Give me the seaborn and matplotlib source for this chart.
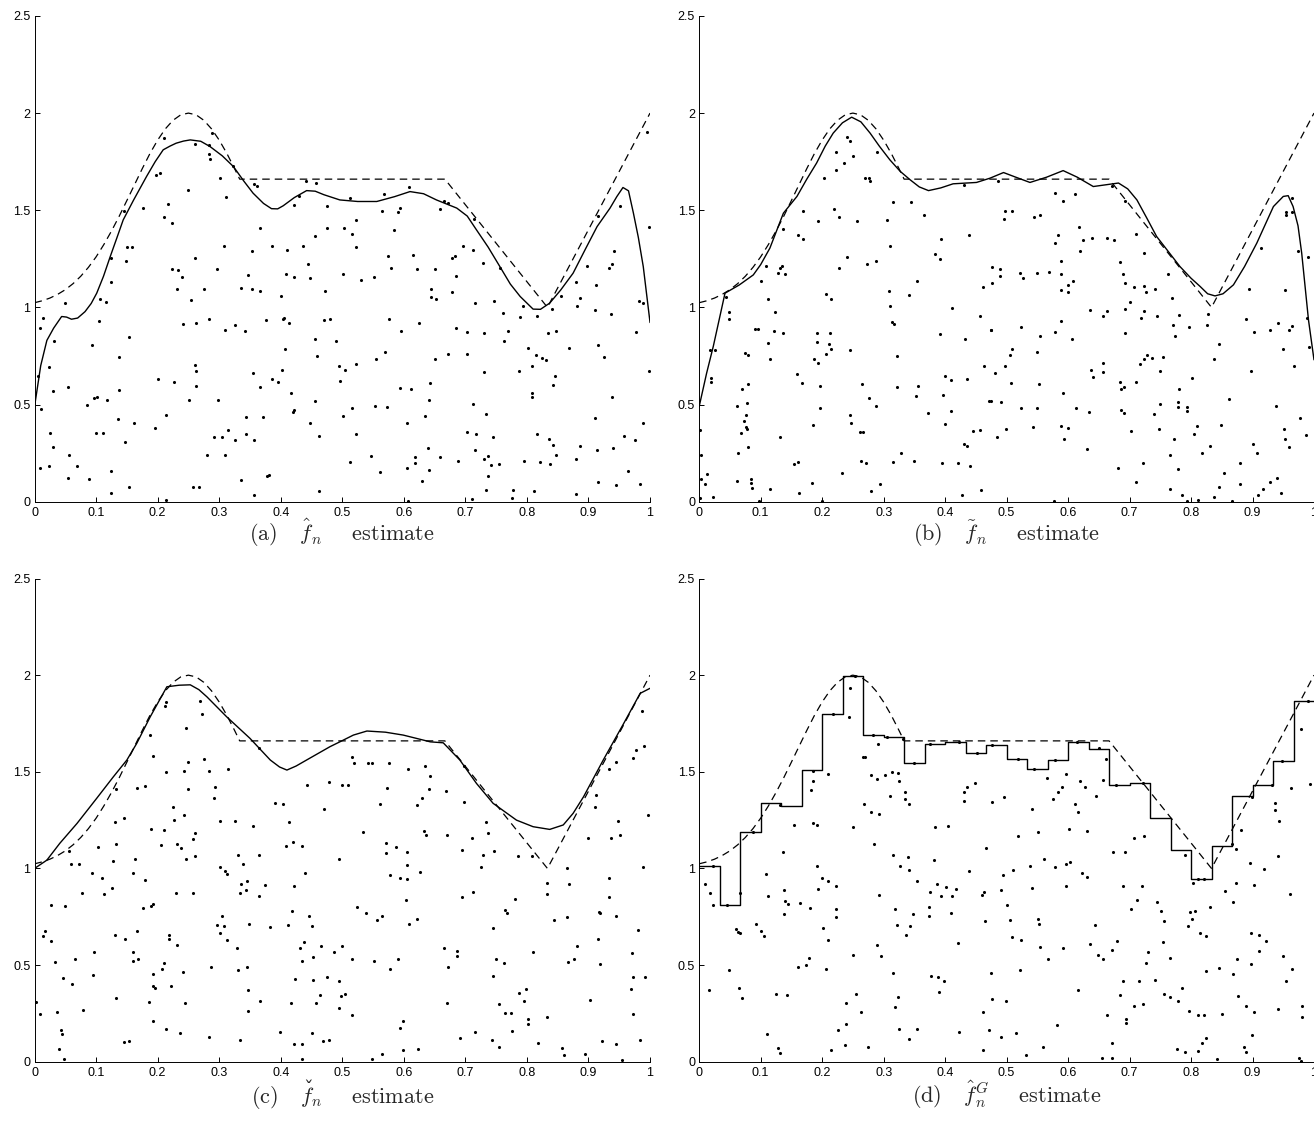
import numpy as np
import matplotlib
matplotlib.use("Agg")
import matplotlib.pyplot as plt
import seaborn as sns

# true regression function (dashed)
true_x = [0, .0125, .025, .0375, .05, .0625, .075, .0875, .1, .1125, .125, .1375, .15, .1625,
          .175, .1875, .2, .2125, .225, .2375, .25, .2625, .275, .2875, .3, .3125, .325, .3333,
          .6667, .8333, 1.0]
true_y = [1.024, 1.034, 1.048, 1.067, 1.091, 1.122, 1.160, 1.206, 1.260, 1.323, 1.393, 1.469,
          1.550, 1.632, 1.714, 1.792, 1.861, 1.919, 1.963, 1.991, 2.0, 1.991, 1.963, 1.919,
          1.861, 1.792, 1.714, 1.66, 1.66, 1.0, 2.0]

# (a) estimate
est_a_x = [0, .01, .02, .031, .044, .052, .06, .07, .082, .092, .101, .112, .123, .134, .144,
           .161, .182, .196, .209, .22, .23, .242, .253, .27, .285, .305, .323, .34, .355,
           .372, .385, .395, .404, .422, .442, .456, .47, .496, .525, .556, .585, .61, .632,
           .653, .686, .703, .718, .737, .756, .773, .789, .81, .822, .837, .855, .875, .895,
           .914, .935, .946, .956, .965, .973, .981, .989, 1.0]
est_a_y = [.49, .70, .83, .893, .953, .95, .939, .945, .978, 1.02, 1.073, 1.16, 1.262, 1.36,
           1.45, 1.553, 1.674, 1.75, 1.811, 1.83, 1.845, 1.856, 1.862, 1.855, 1.828, 1.78,
           1.725, 1.65, 1.588, 1.535, 1.508, 1.507, 1.523, 1.565, 1.601, 1.598, 1.58, 1.553,
           1.545, 1.545, 1.57, 1.596, 1.585, 1.553, 1.511, 1.47, 1.399, 1.31, 1.21, 1.12, 1.056,
           .991, .99, 1.022, 1.09, 1.176, 1.3, 1.416, 1.511, 1.57, 1.617, 1.6, 1.485, 1.36, 1.21,
           .922]

# (b) estimate
est_b_x = [0, .012, .023, .042, .065, .088, .1, .115, .137, .159, .175, .191, .205, .218, .233,
           .248, .263, .278, .293, .31, .327, .343, .358, .373, .393, .413, .451, .473, .495,
           .515, .538, .565, .592, .615, .641, .682, .697, .712, .728, .744, .782, .8, .815,
           .827, .839, .852, .869, .887, .907, .934, .95, .958, .966, .974, .98, .991, 1.0]
est_b_y = [.49, .66, .80, 1.073, 1.115, 1.167, 1.22, 1.305, 1.485, 1.571, 1.66, 1.743, 1.83,
           1.897, 1.95, 1.979, 1.955, 1.897, 1.83, 1.76, 1.70, 1.657, 1.62, 1.601, 1.615, 1.636,
           1.643, 1.665, 1.694, 1.67, 1.643, 1.67, 1.704, 1.67, 1.622, 1.64, 1.61, 1.553, 1.46,
           1.365, 1.21, 1.15, 1.107, 1.07, 1.059, 1.07, 1.116, 1.21, 1.331, 1.519, 1.571, 1.575,
           1.519, 1.42, 1.279, .936, .73]

# (c) estimate
est_c_x = [0, .02, .041, .069, .101, .128, .15, .166, .188, .215, .235, .253, .267, .28, .312,
           .35, .383, .398, .41, .425, .442, .48, .496, .518, .54, .57, .599, .643, .664, .691,
           .718, .745, .783, .81, .837, .859, .875, .892, .924, .957, .984, 1.0]
est_c_y = [1.0, 1.043, 1.13, 1.233, 1.363, 1.474, 1.561, 1.647, 1.785, 1.94, 1.948, 1.95, 1.925,
           1.888, 1.785, 1.673, 1.561, 1.525, 1.509, 1.53, 1.561, 1.63, 1.655, 1.69, 1.711,
           1.705, 1.69, 1.655, 1.65, 1.561, 1.44, 1.337, 1.25, 1.216, 1.202, 1.225, 1.285,
           1.371, 1.561, 1.749, 1.906, 1.932]

# (d) piecewise constant estimate on 30 bins
edges_d = [0, .0333, .0667, .1, .1333, .1667, .2, .2333, .2667, .3, .3333, .3667, .4, .4333,
           .4667, .5, .5333, .5667, .6, .6333, .6667, .7, .7333, .7667, .8, .8333, .8667, .9,
           .9333, .9667, 1.0]
steps_d = [1.012, .811, 1.19, 1.34, 1.324, 1.507, 1.799, 1.995, 1.692, 1.68, 1.547, 1.644,
           1.654, 1.599, 1.637, 1.564, 1.516, 1.559, 1.656, 1.62, 1.43, 1.443, 1.261, 1.097,
           .945, 1.118, 1.373, 1.43, 1.556, 1.866, 1.866]

# observations
pts_a = [(.210, 1.874), (.289, 1.900), (.260, 1.840), (.284, 1.837), (.284, 1.790), (.285, 1.763),
         (.322, 1.730), (.197, 1.682), (.204, 1.691), (.302, 1.665), (.441, 1.651), (.457, 1.639),
         (.356, 1.636), (.362, 1.625), (.249, 1.603), (.311, 1.569), (.429, 1.574), (.475, 1.521),
         (.421, 1.529), (.217, 1.533), (.176, 1.510), (.146, 1.498), (.211, 1.466), (.224, 1.435),
         (.366, 1.411), (.475, 1.409), (.455, 1.365), (.150, 1.313), (.158, 1.310), (.307, 1.315),
         (.386, 1.318), (.436, 1.317), (.410, 1.296), (.354, 1.291), (.124, 1.256), (.260, 1.256),
         (.148, 1.239), (.445, 1.222), (.297, 1.200), (.224, 1.196), (.233, 1.193), (.239, 1.157),
         (.347, 1.167), (.409, 1.172), (.447, 1.153), (.421, 1.155), (.124, 1.129), (.232, 1.095),
         (.275, 1.095), (.336, 1.099), (.354, 1.093), (.367, 1.086), (.472, 1.086), (.401, 1.059),
         (.107, 1.042), (.116, 1.028), (.050, 1.025), (.254, 1.038), (.014, .944), (.009, .893),
         (.104, .930), (.283, .941), (.241, .915), (.263, .917), (.310, .884), (.325, .910),
         (.342, .879), (.376, .934), (.404, .941), (.406, .944), (.414, .922), (.470, .934),
         (.480, .941), (.154, .846), (.031, .827), (.094, .807), (.407, .784), (.456, .838),
         (.138, .743), (.459, .750), (.006, .647), (.024, .692), (.261, .704), (.263, .673),
         (.355, .664), (.402, .678), (.200, .632), (.226, .618), (.386, .633), (.395, .614),
         (.263, .594), (.367, .589), (.054, .590), (.030, .572), (.138, .575), (.417, .558),
         (.011, .475), (.085, .498), (.096, .532), (.101, .541), (.118, .524), (.251, .524),
         (.298, .524), (.455, .518), (.420, .460), (.421, .472), (.213, .446), (.343, .438),
         (.371, .434), (.135, .424), (.161, .403), (.195, .381), (.448, .407), (.025, .352),
         (.100, .354), (.112, .354), (.314, .369), (.291, .335), (.304, .335), (.326, .318),
         (.343, .347), (.357, .318), (.462, .338), (.147, .309), (.030, .280), (.056, .240),
         (.280, .240), (.310, .240), (.009, .172), (.024, .185), (.069, .185), (.054, .120),
         (.089, .118), (.125, .158), (.336, .112), (.377, .134), (.381, .136), (.124, .046),
         (.153, .077), (.258, .077), (.267, .077), (.214, .009), (.357, .034), (.462, .055),
         (.995, 1.905), (.609, 1.622), (.568, 1.584), (.512, 1.565), (.665, 1.548), (.672, 1.536),
         (.952, 1.522), (.564, 1.498), (.593, 1.510), (.591, 1.490), (.658, 1.507), (.714, 1.454),
         (.916, 1.468), (.523, 1.450), (.502, 1.406), (.584, 1.399), (.515, 1.377), (.998, 1.413),
         (.522, 1.313), (.696, 1.317), (.712, 1.296), (.574, 1.265), (.615, 1.268), (.679, 1.255),
         (.683, 1.265), (.941, 1.292), (.728, 1.227), (.579, 1.202), (.621, 1.196), (.650, 1.198),
         (.756, 1.205), (.898, 1.215), (.938, 1.222), (.934, 1.202), (.501, 1.172), (.684, 1.162),
         (.551, 1.155), (.531, 1.140), (.879, 1.133), (.913, 1.114), (.644, 1.092), (.679, 1.080),
         (.644, 1.052), (.652, 1.044), (.855, 1.061), (.886, 1.047), (.746, 1.033), (.715, 1.021),
         (.982, 1.033), (.988, 1.021), (.794, 1.008), (.881, 1.008), (.841, .990), (.910, .984),
         (.937, .968), (.761, .973), (.816, .953), (.788, .948), (.576, .939), (.625, .918),
         (.595, .879), (.685, .893), (.703, .874), (.730, .867), (.770, .879), (.834, .867),
         (.848, .879), (.977, .875), (.489, .826), (.763, .826), (.915, .807), (.801, .790),
         (.869, .790), (.570, .769), (.522, .709), (.555, .736), (.650, .733), (.671, .760),
         (.703, .760), (.815, .755), (.824, .738), (.831, .729), (.808, .699), (.925, .747),
         (.495, .700), (.505, .678), (.497, .621), (.731, .666), (.787, .671), (.845, .649),
         (.842, .601), (.999, .675), (.594, .584), (.611, .582), (.642, .609), (.808, .561),
         (.809, .537), (.938, .537), (.641, .524), (.712, .501), (.516, .484), (.553, .494),
         (.572, .486), (.501, .443), (.635, .443), (.734, .453), (.911, .429), (.988, .403),
         (.605, .403), (.523, .347), (.702, .360), (.718, .347), (.745, .335), (.817, .347),
         (.836, .323), (.842, .290), (.958, .340), (.976, .318), (.639, .276), (.716, .266),
         (.887, .288), (.914, .266), (.940, .275), (.546, .237), (.618, .228), (.658, .228),
         (.737, .235), (.848, .239), (.513, .204), (.605, .175), (.618, .197), (.688, .211),
         (.731, .218), (.742, .187), (.754, .192), (.796, .208), (.821, .203), (.837, .192),
         (.880, .221), (.964, .160), (.562, .154), (.641, .161), (.737, .134), (.629, .108),
         (.915, .103), (.945, .084), (.984, .093), (.734, .060), (.778, .060), (.811, .055),
         (.776, .019), (.711, .014), (.879, .038), (.606, .002)]

pts_b = [(.240, 1.876), (.245, 1.854), (.223, 1.799), (.289, 1.799), (.250, 1.780), (.236, 1.742),
         (.223, 1.708), (.203, 1.668), (.269, 1.665), (.277, 1.668), (.278, 1.648), (.431, 1.631),
         (.316, 1.540), (.344, 1.540), (.169, 1.497), (.220, 1.505), (.228, 1.466), (.366, 1.473),
         (.194, 1.447), (.257, 1.445), (.305, 1.452), (.137, 1.402), (.161, 1.370), (.169, 1.354),
         (.439, 1.373), (.393, 1.351), (.311, 1.318), (.384, 1.277), (.240, 1.258), (.392, 1.248),
         (.273, 1.222), (.288, 1.241), (.228, 1.203), (.108, 1.215), (.131, 1.205), (.134, 1.212),
         (.128, 1.176), (.140, 1.171), (.101, 1.138), (.355, 1.136), (.462, 1.104), (.308, 1.085),
         (.342, 1.064), (.207, 1.069), (.215, 1.044), (.112, 1.045), (.043, 1.052), (.049, .975),
         (.048, .941), (.123, .975), (.311, 1.006), (.411, .996), (.457, .953), (.314, .927),
         (.317, .913), (.475, .884), (.090, .889), (.096, .889), (.121, .879), (.136, .867),
         (.191, .867), (.212, .867), (.391, .862), (.112, .815), (.192, .820), (.211, .812),
         (.432, .838), (.018, .781), (.025, .778), (.215, .784), (.245, .781), (.074, .764),
         (.080, .755), (.115, .735), (.207, .759), (.186, .736), (.193, .714), (.322, .748),
         (.464, .699), (.019, .635), (.019, .618), (.080, .604), (.159, .656), (.168, .609),
         (.265, .608), (.197, .594), (.321, .589), (.356, .596), (.400, .649), (.410, .627),
         (.435, .632), (.069, .580), (.077, .510), (.061, .494), (.277, .532), (.287, .491),
         (.352, .544), (.397, .548), (.196, .481), (.245, .448), (.372, .458), (.410, .469),
         (.474, .518), (.076, .446), (.073, .417), (.076, .386), (.077, .372), (.068, .355),
         (.185, .395), (.247, .407), (.400, .398), (.002, .369), (.457, .369), (.445, .366),
         (.262, .360), (.267, .360), (.080, .283), (.132, .333), (.430, .297), (.436, .287),
         (.063, .252), (.328, .249), (.003, .239), (.155, .192), (.160, .203), (.263, .209),
         (.272, .197), (.315, .204), (.349, .209), (.395, .197), (.421, .201), (.441, .185),
         (.012, .141), (.003, .118), (.010, .091), (.232, .149), (.062, .106), (.085, .118),
         (.085, .096), (.086, .069), (.184, .096), (.294, .091), (.116, .067), (.162, .043),
         (.280, .053), (.459, .060), (.428, .036), (.023, .026), (.002, .019), (.098, .003),
         (.199, .002),
         (.486, 1.648), (.578, 1.588), (.612, 1.584), (.592, 1.545), (.671, 1.625), (.965, 1.565),
         (.692, 1.545), (.955, 1.493), (.955, 1.476), (.964, 1.493), (.497, 1.497), (.508, 1.497),
         (.495, 1.456), (.545, 1.466), (.554, 1.473), (.618, 1.416), (.584, 1.372), (.579, 1.332),
         (.625, 1.347), (.639, 1.359), (.664, 1.359), (.675, 1.346), (.711, 1.377), (.620, 1.292),
         (.724, 1.280), (.914, 1.304), (.991, 1.258), (.974, 1.292), (.588, 1.241), (.684, 1.232),
         (.476, 1.210), (.489, 1.196), (.489, 1.159), (.521, 1.179), (.526, 1.153), (.550, 1.177),
         (.569, 1.184), (.588, 1.172), (.690, 1.171), (.762, 1.171), (.476, 1.124), (.589, 1.090),
         (.600, 1.080), (.600, 1.116), (.608, 1.138), (.693, 1.128), (.708, 1.107), (.724, 1.112),
         (.727, 1.080), (.742, 1.097), (.895, 1.097), (.953, 1.088), (.769, 1.047), (.701, 1.028),
         (.636, .984), (.656, .958), (.664, .980), (.693, .990), (.718, .947), (.724, .980),
         (.745, .956), (.781, .960), (.828, .968), (.588, .932), (.890, .941), (.941, .918),
         (.988, .944), (.474, .882), (.523, .898), (.771, .908), (.774, .851), (.797, .901),
         (.826, .910), (.959, .884), (.965, .905), (.929, .882), (.902, .872), (.578, .872),
         (.693, .867), (.554, .853), (.607, .836), (.846, .812), (.992, .798), (.549, .772),
         (.509, .786), (.505, .754), (.949, .786), (.717, .709), (.723, .733), (.729, .754),
         (.737, .738), (.754, .743), (.838, .733), (.498, .700), (.481, .661), (.657, .712),
         (.638, .678), (.640, .640), (.657, .669), (.750, .675), (.967, .699), (.898, .673),
         (.507, .613), (.552, .608), (.684, .618), (.686, .580), (.691, .592), (.711, .618),
         (.801, .635), (.781, .582), (.591, .561), (.471, .520), (.491, .512), (.523, .484),
         (.549, .484), (.613, .481), (.634, .460), (.686, .472), (.691, .455), (.749, .503),
         (.740, .450), (.778, .512), (.778, .489), (.793, .486), (.793, .469), (.861, .529),
         (.939, .494), (.977, .429), (.499, .372), (.484, .331), (.543, .386), (.589, .390),
         (.600, .378), (.593, .324), (.702, .366), (.748, .372), (.809, .390), (.805, .348),
         (.849, .395), (.951, .372), (.953, .324), (.987, .342), (.773, .323), (.630, .273),
         (.766, .242), (.818, .249), (.831, .287), (.901, .297), (.908, .249), (.960, .283),
         (.722, .201), (.779, .170), (.682, .172), (.879, .197), (.853, .149), (.711, .100),
         (.766, .065), (.846, .077), (.880, .091), (.917, .064), (.928, .100), (.940, .120),
         (.946, .043), (.909, .036), (.786, .033), (.838, .026), (.793, .005), (.811, .009),
         (.867, .003), (.577, .002)]

pts_c = [(.214, 1.862), (.269, 1.866), (.212, 1.841), (.272, 1.798), (.246, 1.726), (.187, 1.693),
         (.193, 1.581), (.275, 1.567), (.249, 1.553), (.214, 1.498), (.243, 1.505), (.283, 1.505),
         (.315, 1.512), (.364, 1.624), (.293, 1.421), (.292, 1.362), (.250, 1.409), (.132, 1.409),
         (.167, 1.414), (.179, 1.424), (.442, 1.431), (.478, 1.448), (.390, 1.341), (.404, 1.331),
         (.471, 1.307), (.225, 1.319), (.227, 1.252), (.243, 1.274), (.301, 1.248), (.325, 1.248),
         (.131, 1.241), (.146, 1.262), (.414, 1.240), (.355, 1.221), (.189, 1.205), (.210, 1.197),
         (.261, 1.181), (.257, 1.153), (.132, 1.128), (.205, 1.122), (.231, 1.128), (.238, 1.107),
         (.103, 1.112), (.409, 1.117), (.420, 1.136), (.435, 1.114), (.331, 1.072), (.364, 1.072),
         (.261, 1.064), (.056, 1.091), (.164, 1.048), (.128, 1.041), (.246, 1.048), (.059, 1.022),
         (.073, 1.021), (.338, 1.024), (.302, 1.009), (.309, .988), (.313, .969), (.093, .978),
         (.160, .978), (.439, .978), (.109, .948), (.180, .938), (.336, .922), (.345, .936),
         (.343, .891), (.375, .914), (.334, .874), (.077, .874), (.126, .900), (.113, .866),
         (.230, .871), (.258, .871), (.422, .909), (.365, .857), (.027, .809), (.050, .805),
         (.176, .797), (.189, .805), (.192, .814), (.419, .781), (.304, .753), (.412, .707),
         (.349, .710), (.382, .698), (.296, .707), (.308, .703), (.446, .755), (.450, .703),
         (.013, .652), (.017, .676), (.027, .626), (.130, .655), (.167, .678), (.218, .655),
         (.218, .634), (.231, .603), (.301, .667), (.313, .629), (.147, .633), (.329, .590),
         (.431, .591), (.437, .619), (.465, .600), (.097, .567), (.065, .534), (.033, .514),
         (.160, .569), (.160, .521), (.168, .529), (.435, .521), (.452, .543), (.211, .512),
         (.207, .479), (.193, .453), (.241, .466), (.286, .491), (.330, .474), (.345, .488),
         (.095, .448), (.046, .434), (.423, .428), (.452, .424), (.475, .438), (.061, .402),
         (.193, .393), (.195, .381), (.221, .393), (.346, .371), (.463, .345), (.002, .307),
         (.132, .328), (.186, .310), (.244, .302), (.366, .314), (.416, .302), (.458, .302),
         (.009, .248), (.037, .259), (.078, .267), (.347, .264), (.192, .210), (.043, .164),
         (.045, .141), (.214, .167), (.236, .150), (.284, .129), (.333, .110), (.398, .152),
         (.450, .147), (.469, .107), (.479, .112), (.145, .102), (.153, .107), (.421, .091),
         (.435, .091), (.039, .064), (.048, .014), (.434, .014),
         (.515, 1.578), (.519, 1.543), (.542, 1.548), (.549, 1.548), (.576, 1.543), (.606, 1.517),
         (.634, 1.529), (.643, 1.479), (.698, 1.531), (.972, 1.574), (.977, 1.612), (.991, 1.634),
         (.987, 1.814), (.934, 1.512), (.944, 1.553), (.499, 1.433), (.509, 1.431), (.572, 1.416),
         (.641, 1.412), (.630, 1.367), (.622, 1.328), (.669, 1.403), (.698, 1.345), (.561, 1.331),
         (.912, 1.378), (.910, 1.316), (.733, 1.238), (.737, 1.181), (.948, 1.247), (.996, 1.278),
         (.534, 1.190), (.632, 1.195), (.636, 1.172), (.670, 1.171), (.711, 1.157), (.899, 1.160),
         (.936, 1.157), (.951, 1.172), (.571, 1.133), (.571, 1.081), (.588, 1.112), (.605, 1.086),
         (.695, 1.098), (.728, 1.072), (.747, 1.091), (.786, 1.066), (.809, 1.066), (.494, 1.047),
         (.577, .964), (.593, .952), (.605, .943), (.605, 1.017), (.626, .983), (.725, 1.009),
         (.865, 1.000), (.989, 1.009), (.833, .926), (.833, .866), (.868, .922), (.934, .953),
         (.934, .853), (.713, .879), (.694, .850), (.780, .841), (.604, .836), (.524, .798),
         (.539, .767), (.557, .733), (.564, .753), (.609, .712), (.622, .741), (.764, .784),
         (.767, .767), (.844, .733), (.865, .747), (.917, .776), (.918, .767), (.944, .755),
         (.745, .690), (.981, .684), (.915, .634), (.487, .569), (.499, .598), (.515, .529),
         (.552, .521), (.591, .529), (.578, .478), (.666, .586), (.686, .574), (.686, .548),
         (.672, .490), (.810, .566), (.881, .600), (.866, .517), (.876, .534), (.749, .529),
         (.763, .509), (.745, .443), (.918, .505), (.970, .564), (.972, .440), (.992, .436),
         (.495, .419), (.498, .340), (.505, .353), (.495, .276), (.516, .241), (.670, .302),
         (.754, .298), (.764, .253), (.774, .253), (.787, .357), (.799, .376), (.796, .314),
         (.801, .221), (.802, .193), (.833, .229), (.903, .319), (.969, .376), (.973, .245),
         (.599, .210), (.594, .172), (.716, .155), (.692, .121), (.744, .112), (.775, .157),
         (.818, .095), (.922, .107), (.945, .091), (.983, .112), (.564, .041), (.599, .060),
         (.623, .064), (.755, .074), (.857, .072), (.861, .034), (.895, .038), (.955, .009),
         (.549, .014)]

pts_d = [(.253, 1.997), (.246, 1.936), (.244, 1.781), (.218, 1.799), (.266, 1.578), (.269, 1.575),
         (.291, 1.644), (.282, 1.688), (.306, 1.678), (.332, 1.670), (.350, 1.547), (.376, 1.644),
         (.422, 1.656), (.452, 1.599), (.185, 1.506), (.185, 1.454), (.209, 1.491), (.182, 1.406),
         (.280, 1.482), (.289, 1.463), (.303, 1.484), (.313, 1.497), (.324, 1.496), (.325, 1.451),
         (.335, 1.396), (.335, 1.358), (.342, 1.334), (.310, 1.377), (.268, 1.332), (.279, 1.293),
         (.293, 1.284), (.431, 1.396), (.435, 1.423), (.448, 1.444), (.430, 1.349), (.132, 1.329),
         (.087, 1.191), (.154, 1.225), (.185, 1.234), (.192, 1.225), (.250, 1.213), (.384, 1.212),
         (.405, 1.222), (.285, 1.126), (.137, 1.084), (.316, 1.067), (.339, 1.057), (.382, 1.045),
         (.466, 1.105), (.022, 1.014), (.191, 1.014), (.327, 1.014), (.342, .990), (.439, .988),
         (.109, .971), (.200, .950), (.210, .936), (.222, .907), (.355, .936), (.009, .919),
         (.018, .873), (.022, .809), (.066, .873), (.138, .886), (.194, .893), (.292, .864),
         (.376, .878), (.386, .919), (.394, .855), (.402, .902), (.411, .859), (.418, .895),
         (.464, .878), (.460, .861), (.045, .812), (.112, .855), (.139, .830), (.144, .818),
         (.164, .821), (.181, .795), (.138, .766), (.222, .790), (.223, .749), (.318, .790),
         (.348, .766), (.373, .756), (.373, .800), (.410, .769), (.060, .687), (.063, .671),
         (.067, .666), (.092, .713), (.100, .678), (.106, .652), (.202, .690), (.209, .628),
         (.322, .706), (.343, .704), (.336, .654), (.465, .726), (.421, .614), (.289, .606),
         (.250, .554), (.295, .546), (.179, .537), (.174, .503), (.161, .491), (.207, .482),
         (.048, .473), (.316, .460), (.377, .446), (.388, .437), (.399, .417), (.390, .361),
         (.016, .372), (.065, .380), (.069, .329), (.125, .353), (.143, .344), (.255, .348),
         (.323, .337), (.238, .305), (.318, .284), (.264, .258), (.462, .256), (.110, .141),
         (.225, .162), (.239, .193), (.325, .167), (.355, .170), (.342, .120), (.423, .155),
         (.471, .164), (.128, .072), (.131, .046), (.215, .059), (.237, .089), (.275, .076),
         (.462, .060), (.475, .460),
         (.476, 1.637), (.519, 1.565), (.545, 1.516), (.579, 1.559), (.615, 1.656), (.650, 1.621),
         (.661, 1.565), (.566, 1.470), (.597, 1.487), (.657, 1.458), (.678, 1.430), (.722, 1.444),
         (.619, 1.453), (.627, 1.423), (.590, 1.423), (.583, 1.398), (.575, 1.358), (.611, 1.332),
         (.616, 1.291), (.476, 1.346), (.496, 1.368), (.542, 1.306), (.646, 1.377), (.601, 1.205),
         (.631, 1.196), (.551, 1.189), (.518, 1.169), (.707, 1.157), (.723, 1.170), (.673, 1.084),
         (.693, 1.084), (.790, 1.071), (.811, .947), (.821, .947), (.803, .924), (.899, 1.372),
         (.932, 1.430), (.948, 1.556), (.963, 1.415), (.994, 1.435), (.979, 1.721), (.991, 1.866),
         (.937, 1.337), (.937, 1.303), (.943, 1.243), (.881, 1.200), (.873, 1.100), (.866, 1.126),
         (.896, 1.028), (.941, 1.062), (.918, .998), (.561, 1.050), (.538, 1.014), (.511, .993),
         (.494, .967), (.578, 1.007), (.596, 1.021), (.603, 1.033), (.623, .979), (.630, .955),
         (.542, .898), (.596, .910), (.491, .890), (.689, .907), (.721, .910), (.873, .924),
         (.903, .912), (.855, .881), (.961, .869), (.501, .809), (.712, .838), (.702, .790),
         (.744, .824), (.751, .778), (.756, .730), (.831, .800), (.869, .824), (.798, .773),
         (.806, .778), (.802, .738), (.795, .704), (.505, .735), (.551, .738), (.553, .713),
         (.643, .706), (.508, .645), (.523, .628), (.555, .592), (.568, .534), (.592, .587),
         (.635, .609), (.649, .551), (.656, .534), (.672, .578), (.679, .623), (.730, .570),
         (.726, .511), (.755, .621), (.765, .537), (.814, .664), (.825, .652), (.898, .666),
         (.910, .654), (.922, .627), (.911, .575), (.875, .534), (.950, .549), (.964, .480),
         (.954, .417), (.897, .508), (.869, .454), (.846, .485), (.824, .472), (.522, .473),
         (.690, .418), (.715, .416), (.741, .422), (.476, .327), (.499, .313), (.616, .370),
         (.684, .344), (.708, .287), (.722, .299), (.756, .348), (.766, .336), (.779, .312),
         (.785, .382), (.877, .339), (.889, .287), (.903, .256), (.942, .274), (.980, .287),
         (.980, .231), (.664, .241), (.694, .219), (.694, .198), (.797, .263), (.811, .243),
         (.821, .243), (.851, .248), (.582, .189), (.515, .150), (.491, .127), (.899, .136),
         (.672, .095), (.559, .076), (.531, .033), (.655, .021), (.672, .017), (.777, .064),
         (.790, .050), (.812, .055), (.818, .098), (.824, .122), (.843, .012), (.886, .077),
         (.889, .050), (.976, .021), (.979, .002)]

xtick_vals = [0, .1, .2, .3, .4, .5, .6, .7, .8, .9, 1]
xtick_text = ["0", "0.1", "0.2", "0.3", "0.4", "0.5", "0.6", "0.7", "0.8", "0.9", "1"]
ytick_vals = [0, .5, 1, 1.5, 2, 2.5]
ytick_text = ["0", "0.5", "1", "1.5", "2", "2.5"]
captions = [r"(a)   $\hat{f}_n$    estimate", r"(b)   $\tilde{f}_n$    estimate",
            r"(c)   $f_n$    estimate", r"(d)   $\hat{f}_n^G$    estimate"]

sns.set_theme(style="ticks", rc={
    "xtick.direction": "in", "ytick.direction": "in",
    "xtick.major.size": 3.5, "ytick.major.size": 3.5,
    "xtick.major.width": 0.7, "ytick.major.width": 0.7,
    "axes.linewidth": 0.7, "xtick.major.pad": 3.5, "ytick.major.pad": 3,
    "axes.edgecolor": "black", "xtick.color": "black", "ytick.color": "black",
})
plt.rcParams["font.family"] = ["Liberation Sans", "DejaVu Sans"]
plt.rcParams["mathtext.fontset"] = "cm"

fig = plt.figure(figsize=(13.14, 11.24), dpi=100)
boxes = [[0.0263, 0.5537, 0.4684, 0.4321], [0.5321, 0.5537, 0.4679, 0.4321],
         [0.0263, 0.0554, 0.4684, 0.4299], [0.5321, 0.0554, 0.4679, 0.4299]]
pts_all = [pts_a, pts_b, pts_c, pts_d]
est_all = [(est_a_x, est_a_y), (est_b_x, est_b_y), (est_c_x, est_c_y), (edges_d, steps_d)]
cap_xy = [(0.2605, 0.5187), (0.7661, 0.5187), (0.2605, 0.0187), (0.7661, 0.0187)]
cap_kw = dict(fontsize=16, family="cmr10")

for i in range(4):
    ax = fig.add_axes(boxes[i])
    px, py = np.array(pts_all[i]).T
    sns.scatterplot(x=px, y=py, ax=ax, s=5, color="black", linewidth=0, marker="o")
    sns.lineplot(x=true_x, y=true_y, ax=ax, color="black", lw=0.9,
                 linestyle=(0, (6, 4)), estimator=None)
    ex, ey = est_all[i]
    if i == 3:
        sns.lineplot(x=ex, y=ey, ax=ax, color="black", lw=1.0, estimator=None,
                     drawstyle="steps-post")
    else:
        sns.lineplot(x=ex, y=ey, ax=ax, color="black", lw=1.0, estimator=None)
    ax.set_xlim(0, 1)
    ax.set_ylim(0, 2.5)
    ax.set_xticks(xtick_vals)
    ax.set_xticklabels(xtick_text, fontsize=9)
    ax.set_yticks(ytick_vals)
    ax.set_yticklabels(ytick_text, fontsize=9)
    ax.set_xlabel("")
    ax.set_ylabel("")
    sns.despine(ax=ax)
    fig.text(cap_xy[i][0], cap_xy[i][1], captions[i], ha="center", va="baseline", **cap_kw)

# mathtext puts the caron of \check off to the side, so set it over the f by hand
rend = fig.canvas.get_renderer()
full = fig.text(0, 0, captions[2], **cap_kw)
upto_f = fig.text(0, 0, r"(c)   $f$", **cap_kw)
just_f = fig.text(0, 0, r"$f$", **cap_kw)
w_full = full.get_window_extent(rend).width
w_upto = upto_f.get_window_extent(rend).width
w_f = just_f.get_window_extent(rend).width
for t in (full, upto_f, just_f):
    t.remove()
fig_w = fig.get_figwidth() * fig.dpi
fig_h = fig.get_figheight() * fig.dpi
f_mid = cap_xy[2][0] * fig_w - w_full / 2 + w_upto - w_f * 0.42
fig.text(f_mid / fig_w, cap_xy[2][1] + 8 / fig_h, "\u02c7", ha="center", va="baseline",
         fontsize=14, family="DejaVu Serif")

fig.savefig("out.png", dpi=100)
